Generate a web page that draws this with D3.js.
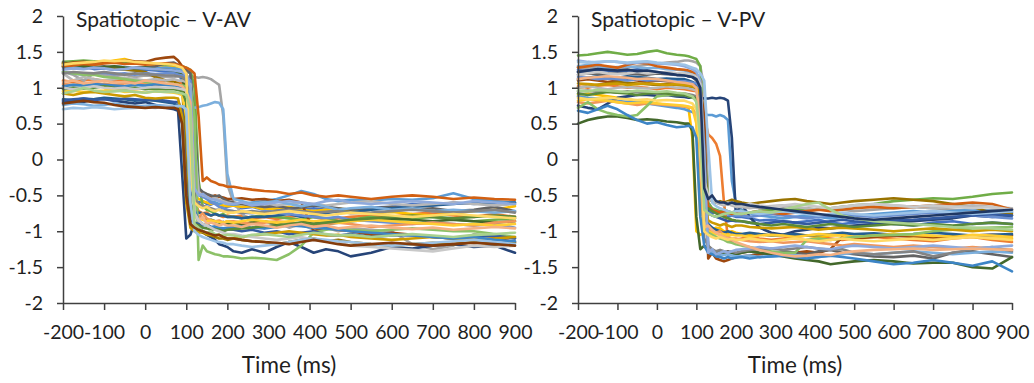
<!DOCTYPE html>
<html>
<head>
<meta charset="utf-8">
<script src="https://cdn.jsdelivr.net/npm/d3@7"></script>
<style>
	body { margin: 0; background: #fff; }
	svg { display: block; font-family: Lato, "Open Sans", sans-serif; }
</style>
</head>
<body>
<svg id="chart" width="1034" height="383"></svg>
<script>
// time grid (ms): coarse before the saccade, fine around it, coarse after
const preTimes = [-200, -175, -150, -125, -100, -75, -50, -25, 0, 25, 50];
const midTimes = [70, 80, 90, 100, 110, 120, 130, 140, 150, 160, 170, 180, 190, 200];
const postTimes = [215, 235, 260, 290, 320, 350, 380, 410, 440, 470, 500, 550, 600, 650, 700, 750, 800, 850, 900];

const xTicks = [-200, -100, 0, 100, 200, 300, 400, 500, 600, 700, 800, 900];
const yTicks = [-2, -1.5, -1, -0.5, 0, 0.5, 1, 1.5, 2];

const titles = ["Spatiotopic \u2013 V-AV", "Spatiotopic \u2013 V-PV"];
const xLabel = "Time (ms)";

// V-AV
const avColors = ["#4472C4", "#ED7D31", "#A5A5A5", "#FFC000", "#5B9BD5", "#70AD47", "#264478", "#9E480E",
	"#636363", "#997300", "#255E91", "#43682B", "#698ED0", "#F1975A", "#B7B7B7", "#FFCD33", "#7CAFDD",
	"#8CC168", "#335AA1", "#D26012", "#848484", "#CC9A00", "#3D85C6", "#5A8A39", "#8FAADC", "#F4B183",
	"#C9C9C9", "#FFD966", "#9DC3E6", "#A9D18E", "#843C0C"];

const avPre = [
	[1.28, 1.27, 1.29, 1.26, 1.27, 1.25, 1.26, 1.24, 1.25, 1.24, 1.23],
	[1.1, 1.08, 1.1, 1.12, 1.09, 1.1, 1.11, 1.08, 1.1, 1.09, 1.1],
	[1.22, 1.18, 1.1, 1.2, 1.18, 1.16, 1.18, 1.15, 1.17, 1.16, 1.15],
	[1.3, 1.32, 1.35, 1.36, 1.35, 1.38, 1.4, 1.36, 1.33, 1.32, 1.3],
	[1.3, 1.28, 1.3, 1.29, 1.28, 1.3, 1.29, 1.27, 1.28, 1.27, 1.28],
	[1.36, 1.37, 1.38, 1.37, 1.36, 1.35, 1.36, 1.34, 1.35, 1.33, 1.32],
	[0.8, 0.82, 0.8, 0.84, 0.85, 0.82, 0.8, 0.78, 0.8, 0.76, 0.72],
	[1.33, 1.35, 1.36, 1.35, 1.37, 1.36, 1.38, 1.37, 1.36, 1.4, 1.42],
	[1.35, 1.33, 1.3, 1.28, 1.3, 1.27, 1.25, 1.28, 1.28, 1.3, 1.34],
	[1.34, 1.33, 1.32, 1.3, 1.28, 1.27, 1.25, 1.24, 1.22, 1.15, 1.1],
	[0.84, 0.83, 0.85, 0.84, 0.86, 0.85, 0.84, 0.82, 0.83, 0.82, 0.8],
	[1.3, 1.32, 1.3, 1.28, 1.29, 1.3, 1.28, 1.27, 1.28, 1.26, 1.25],
	[1.22, 1.2, 1.18, 1.2, 1.21, 1.19, 1.2, 1.18, 1.2, 1.19, 1.2],
	[1.05, 1.04, 1.06, 1.07, 1.05, 1.04, 1.06, 1.07, 1.05, 1.04, 1.05],
	[1.2, 1.1, 1.15, 1.12, 1.1, 1.12, 1.14, 1.12, 1.1, 1.12, 1.1],
	[0.95, 0.96, 0.94, 0.95, 0.96, 0.98, 0.94, 0.95, 0.93, 0.95, 0.94],
	[0.76, 0.78, 0.77, 0.75, 0.76, 0.78, 0.76, 0.74, 0.75, 0.76, 0.75],
	[1.22, 1.2, 1.18, 1.18, 1.15, 1.14, 1.12, 1.1, 1.08, 1.06, 1.05],
	[0.82, 0.84, 0.85, 0.83, 0.84, 0.82, 0.85, 0.84, 0.83, 0.84, 0.82],
	[1.3, 1.31, 1.33, 1.32, 1.34, 1.35, 1.33, 1.34, 1.32, 1.33, 1.34],
	[1.2, 1.22, 1.21, 1.2, 1.22, 1.2, 1.18, 1.2, 1.19, 1.18, 1.17],
	[0.92, 0.9, 0.93, 0.94, 0.92, 0.9, 0.88, 0.9, 0.86, 0.85, 0.86],
	[1.02, 1.04, 1.03, 1.05, 1.04, 1.03, 1.02, 1.04, 1.03, 1.05, 1.04],
	[0.98, 1.0, 0.99, 1.0, 1.02, 1.0, 0.99, 1.0, 0.98, 0.99, 0.98],
	[1.25, 1.27, 1.26, 1.28, 1.27, 1.25, 1.26, 1.28, 1.27, 1.26, 1.25],
	[1.08, 1.1, 1.06, 1.08, 1.1, 1.07, 1.08, 1.06, 1.1, 1.08, 1.06],
	[1.0, 0.98, 1.0, 1.02, 1.0, 0.99, 1.0, 0.98, 1.0, 1.01, 1.0],
	[1.32, 1.34, 1.35, 1.36, 1.38, 1.37, 1.38, 1.36, 1.35, 1.34, 1.33],
	[0.7, 0.72, 0.71, 0.73, 0.72, 0.7, 0.71, 0.72, 0.73, 0.72, 0.74],
	[0.92, 0.95, 1.0, 0.96, 0.94, 0.95, 0.96, 0.94, 0.93, 0.95, 0.94],
	[0.78, 0.8, 0.82, 0.8, 0.79, 0.76, 0.74, 0.73, 0.72, 0.73, 0.72]
];

const avMid = [
	[1.22, 1.2, 1.1, 0.2, -0.45, -0.55, -0.6, -0.58, -0.62, -0.63, -0.6, -0.64, -0.65, -0.66],
	[1.08, 1.08, 1.05, 1.0, 0.6, -0.6, -0.72, -0.75, -0.74, -0.78, -0.76, -0.78, -0.8, -0.78],
	[1.15, 1.16, 1.15, 1.15, 1.16, 1.15, 1.14, 1.15, 1.14, 1.12, 1.08, 1.04, 0.6, -0.35],
	[1.3, 1.28, 1.25, 0.9, -0.3, -0.5, -0.55, -0.58, -0.6, -0.62, -0.6, -0.63, -0.64, -0.65],
	[1.27, 1.26, 1.25, 1.24, 1.2, 0.4, -0.45, -0.5, -0.55, -0.58, -0.6, -0.62, -0.6, -0.62],
	[1.32, 1.3, 1.3, 1.28, 1.25, 1.0, -0.3, -0.65, -0.7, -0.72, -0.75, -0.78, -0.76, -0.8],
	[0.7, 0.68, -0.2, -1.1, -1.05, -0.88, -0.95, -1.0, -1.05, -1.08, -1.12, -1.18, -1.2, -1.22],
	[1.43, 1.38, 1.3, 1.2, 0.2, -0.5, -0.45, -0.48, -0.5, -0.52, -0.5, -0.52, -0.53, -0.55],
	[1.35, 1.32, 1.28, 1.25, 1.2, 0.5, -0.4, -0.45, -0.48, -0.5, -0.52, -0.5, -0.55, -0.58],
	[1.08, 1.06, 1.0, 0.1, -0.9, -0.95, -1.0, -1.02, -1.05, -1.06, -1.08, -1.1, -1.1, -1.12],
	[0.78, 0.75, 0.5, -0.6, -0.7, -0.72, -0.74, -0.75, -0.76, -0.78, -0.76, -0.78, -0.78, -0.8],
	[1.24, 1.22, 1.2, 0.8, -0.6, -0.75, -0.8, -0.82, -0.85, -0.84, -0.86, -0.88, -0.87, -0.9],
	[1.2, 1.18, 1.17, 1.15, 1.1, 0.3, -0.5, -0.52, -0.55, -0.6, -0.62, -0.66, -0.68, -0.7],
	[1.05, 1.04, 1.03, 1.0, 0.2, -0.7, -0.8, -0.75, -0.82, -0.85, -0.86, -0.85, -0.88, -0.86],
	[1.12, 1.1, 1.1, 1.08, 1.05, 0.2, -0.45, -0.5, -0.52, -0.55, -0.54, -0.56, -0.58, -0.6],
	[0.93, 0.92, 0.9, 0.6, -0.7, -0.8, -0.82, -0.84, -0.86, -0.85, -0.86, -0.87, -0.88, -0.86],
	[0.74, 0.74, 0.74, 0.73, 0.74, 0.72, 0.73, 0.75, 0.76, 0.78, 0.8, 0.79, 0.7, -0.2],
	[1.05, 1.04, 1.03, 1.02, 1.0, 0.6, -1.4, -1.2, -1.28, -1.3, -1.32, -1.33, -1.35, -1.35],
	[0.8, 0.8, 0.7, -0.4, -0.85, -0.88, -0.9, -0.92, -0.9, -0.94, -0.95, -0.96, -0.98, -0.97],
	[1.33, 1.32, 1.3, 1.28, 1.25, 1.2, 0.6, -0.3, -0.25, -0.3, -0.32, -0.35, -0.36, -0.38],
	[1.17, 1.16, 1.15, 1.1, 0.9, -0.55, -0.62, -0.65, -0.66, -0.68, -0.7, -0.7, -0.72, -0.72],
	[0.86, 0.85, 0.6, -0.6, -0.95, -1.0, -1.02, -1.0, -1.04, -1.05, -1.06, -1.05, -1.08, -1.1],
	[1.03, 1.02, 1.0, 0.98, 0.9, -0.7, -0.85, -0.9, -0.92, -0.94, -0.93, -0.95, -0.96, -0.95],
	[0.98, 0.97, 0.95, 0.8, -0.7, -0.9, -0.92, -0.95, -0.96, -0.98, -0.97, -0.98, -1.0, -0.98],
	[1.24, 1.23, 1.22, 1.18, 1.0, -0.4, -0.5, -0.48, -0.52, -0.55, -0.56, -0.58, -0.6, -0.62],
	[1.05, 1.04, 1.02, 0.95, 0.8, -0.75, -0.85, -0.8, -0.9, -0.88, -0.9, -0.92, -0.9, -0.92],
	[1.0, 0.99, 0.98, 0.96, 0.5, -0.75, -0.85, -0.9, -0.92, -0.95, -0.98, -1.0, -1.02, -1.04],
	[1.32, 1.3, 1.28, 1.2, -0.2, -0.6, -0.65, -0.68, -0.66, -0.7, -0.72, -0.7, -0.72, -0.74],
	[0.74, 0.75, 0.74, 0.7, -0.6, -1.0, -1.05, -1.08, -1.1, -1.12, -1.14, -1.15, -1.16, -1.18],
	[0.94, 0.93, 0.92, 0.9, 0.7, -0.9, -0.95, -1.0, -1.02, -1.0, -1.04, -1.05, -1.06, -1.05],
	[0.72, 0.7, 0.5, -0.5, -0.9, -0.95, -0.98, -1.0, -1.02, -1.04, -1.06, -1.05, -1.08, -1.1]
];

const avPost = [
	[-0.64, -0.68, -0.66, -0.7, -0.69, -0.72, -0.7, -0.68, -0.7, -0.73, -0.7, -0.67, -0.66, -0.62, -0.64, -0.6, -0.62, -0.6, -0.62],
	[-0.8, -0.78, -0.82, -0.8, -0.83, -0.8, -0.78, -0.8, -0.84, -0.82, -0.8, -0.78, -0.8, -0.76, -0.74, -0.78, -0.8, -0.76, -0.8],
	[-0.6, -0.75, -0.88, -0.96, -0.88, -0.95, -0.9, -0.98, -0.95, -1.0, -0.96, -0.98, -1.0, -1.18, -1.25, -1.2, -1.04, -1.08, -1.1],
	[-0.64, -0.66, -0.65, -0.7, -0.68, -0.66, -0.7, -0.72, -0.7, -0.68, -0.72, -0.75, -0.73, -0.76, -0.78, -0.75, -0.72, -0.7, -0.65],
	[-0.63, -0.62, -0.6, -0.58, -0.55, -0.5, -0.44, -0.48, -0.55, -0.58, -0.56, -0.57, -0.55, -0.56, -0.54, -0.47, -0.55, -0.58, -0.6],
	[-0.8, -0.82, -0.8, -0.78, -0.8, -0.82, -0.84, -0.8, -0.82, -0.86, -0.84, -0.8, -0.85, -0.82, -0.8, -0.84, -0.86, -0.84, -0.82],
	[-1.28, -1.3, -1.25, -1.3, -1.22, -1.15, -1.22, -1.3, -1.25, -1.28, -1.35, -1.3, -1.22, -1.24, -1.2, -1.18, -1.22, -1.2, -1.3],
	[-0.55, -0.54, -0.56, -0.55, -0.58, -0.56, -0.6, -1.0, -0.95, -0.98, -1.0, -1.05, -1.02, -1.05, -1.08, -1.1, -1.12, -1.1, -1.15],
	[-0.6, -0.62, -0.64, -0.66, -0.65, -0.68, -0.67, -0.64, -0.66, -0.68, -0.7, -0.68, -0.66, -0.7, -0.68, -0.72, -0.7, -0.66, -0.72],
	[-1.1, -1.12, -1.14, -1.15, -1.18, -1.15, -1.12, -1.1, -1.14, -1.12, -1.15, -1.18, -1.2, -1.18, -1.16, -1.18, -1.15, -1.18, -1.16],
	[-0.8, -0.82, -0.8, -0.8, -0.78, -0.76, -0.8, -0.78, -0.75, -0.72, -0.74, -0.7, -0.68, -0.66, -0.64, -0.62, -0.6, -0.62, -0.6],
	[-0.88, -0.9, -0.88, -0.86, -0.9, -0.92, -0.88, -0.86, -0.9, -0.88, -0.86, -0.84, -0.82, -0.84, -0.86, -0.84, -0.86, -0.88, -0.86],
	[-0.72, -0.74, -0.75, -0.72, -0.74, -0.76, -0.78, -0.8, -0.82, -0.8, -0.84, -0.86, -0.88, -0.9, -0.88, -0.9, -0.92, -0.9, -0.95],
	[-0.86, -0.88, -0.9, -0.88, -0.86, -0.88, -0.9, -0.92, -0.9, -0.88, -0.9, -0.94, -0.92, -0.9, -0.88, -0.9, -0.92, -0.88, -0.86],
	[-0.62, -0.6, -0.62, -0.6, -0.64, -0.62, -0.6, -0.62, -0.64, -0.62, -0.6, -0.58, -0.62, -0.64, -0.62, -0.6, -0.62, -0.64, -0.62],
	[-0.88, -0.86, -0.84, -0.86, -0.88, -0.86, -0.84, -0.86, -0.85, -0.88, -0.86, -0.84, -0.86, -0.88, -0.9, -0.92, -0.9, -0.92, -0.9],
	[-0.55, -0.58, -0.62, -0.6, -0.58, -0.62, -0.65, -0.62, -0.66, -0.7, -0.68, -0.66, -0.7, -0.68, -0.72, -0.7, -0.72, -0.74, -0.72],
	[-1.36, -1.38, -1.37, -1.38, -1.4, -1.32, -1.2, -1.02, -0.98, -0.96, -0.98, -1.0, -0.98, -0.96, -0.98, -1.0, -1.0, -1.04, -1.08],
	[-0.98, -1.0, -0.98, -1.02, -1.0, -1.04, -1.02, -1.0, -1.05, -1.06, -1.04, -1.08, -1.06, -1.05, -1.08, -1.1, -1.08, -1.06, -1.1],
	[-0.38, -0.4, -0.42, -0.44, -0.45, -0.48, -0.46, -0.5, -0.52, -0.5, -0.52, -0.55, -0.52, -0.5, -0.52, -0.55, -0.53, -0.55, -0.56],
	[-0.72, -0.74, -0.72, -0.74, -0.72, -0.7, -0.72, -0.74, -0.73, -0.72, -0.75, -0.74, -0.72, -0.7, -0.72, -0.74, -0.72, -0.7, -0.74],
	[-1.1, -1.08, -1.06, -1.04, -1.02, -1.0, -1.02, -1.04, -1.06, -1.05, -1.08, -1.1, -1.12, -1.1, -1.08, -1.1, -1.12, -1.1, -1.08],
	[-0.94, -0.93, -0.95, -0.96, -0.94, -0.92, -0.93, -0.95, -0.96, -0.98, -1.0, -1.02, -1.04, -1.06, -1.08, -1.1, -1.08, -1.12, -1.14],
	[-0.97, -0.96, -0.95, -0.93, -0.92, -0.9, -0.88, -0.9, -0.88, -0.86, -0.84, -0.82, -0.8, -0.78, -0.8, -0.82, -0.8, -0.78, -0.8],
	[-0.62, -0.6, -0.64, -0.62, -0.6, -0.58, -0.6, -0.62, -0.58, -0.56, -0.6, -0.62, -0.6, -0.58, -0.6, -0.62, -0.58, -0.6, -0.62],
	[-0.92, -0.94, -0.9, -0.92, -0.95, -0.92, -0.9, -0.94, -0.92, -0.96, -0.94, -0.92, -0.95, -0.97, -0.95, -0.98, -0.96, -0.94, -0.96],
	[-1.04, -1.06, -1.08, -1.1, -1.12, -1.1, -1.08, -1.12, -1.14, -1.16, -1.2, -1.22, -1.24, -1.26, -1.28, -1.24, -1.2, -1.22, -1.2],
	[-0.74, -0.72, -0.74, -0.76, -0.74, -0.72, -0.74, -0.76, -0.78, -0.76, -0.74, -0.76, -0.78, -0.8, -0.78, -0.76, -0.78, -0.8, -0.82],
	[-1.18, -1.2, -1.22, -1.2, -1.18, -1.15, -1.12, -1.1, -1.12, -1.14, -1.15, -1.18, -1.2, -1.18, -1.16, -1.14, -1.12, -1.15, -1.18],
	[-1.06, -1.08, -1.05, -1.04, -1.06, -1.08, -1.05, -1.02, -1.04, -1.06, -1.05, -1.08, -1.06, -1.04, -1.06, -1.08, -1.05, -1.04, -1.02],
	[-1.1, -1.12, -1.14, -1.15, -1.16, -1.18, -1.15, -1.12, -1.15, -1.18, -1.2, -1.18, -1.16, -1.18, -1.2, -1.18, -1.16, -1.18, -1.2]
];

// V-PV
const pvColors = ["#4472C4", "#ED7D31", "#A5A5A5", "#FFC000", "#5B9BD5", "#70AD47", "#264478", "#9E480E",
	"#636363", "#997300", "#255E91", "#43682B", "#698ED0", "#F1975A", "#B7B7B7", "#FFCD33", "#7CAFDD",
	"#8CC168", "#335AA1", "#D26012", "#848484", "#CC9A00", "#3D85C6", "#5A8A39", "#8FAADC", "#F4B183",
	"#C9C9C9", "#FFD966", "#9DC3E6", "#A9D18E", "#203864"];

const pvPre = [
	[1.25, 1.24, 1.26, 1.24, 1.23, 1.22, 1.24, 1.22, 1.2, 1.21, 1.2],
	[1.02, 1.0, 1.03, 1.04, 1.02, 1.0, 1.01, 1.0, 0.98, 1.0, 0.99],
	[1.28, 1.27, 1.3, 1.28, 1.26, 1.28, 1.3, 1.32, 1.33, 1.35, 1.36],
	[0.9, 0.92, 0.9, 0.88, 0.86, 0.84, 0.82, 0.8, 0.78, 0.76, 0.75],
	[0.88, 0.86, 0.85, 0.84, 0.82, 0.8, 0.8, 0.78, 0.76, 0.74, 0.72],
	[1.45, 1.46, 1.48, 1.5, 1.48, 1.46, 1.47, 1.5, 1.52, 1.48, 1.46],
	[0.75, 0.72, 0.7, 0.78, 0.86, 0.88, 0.9, 0.9, 0.89, 0.9, 0.88],
	[1.1, 1.12, 1.1, 1.08, 1.1, 1.12, 1.1, 1.08, 1.1, 1.09, 1.08],
	[1.18, 1.2, 1.19, 1.2, 1.21, 1.2, 1.19, 1.18, 1.2, 1.19, 1.18],
	[1.0, 1.02, 1.04, 1.06, 1.08, 1.07, 1.06, 1.05, 1.04, 1.05, 1.04],
	[1.12, 1.14, 1.16, 1.15, 1.14, 1.16, 1.15, 1.14, 1.12, 1.13, 1.12],
	[0.5, 0.55, 0.58, 0.6, 0.6, 0.58, 0.55, 0.56, 0.55, 0.53, 0.52],
	[1.15, 1.14, 1.12, 1.13, 1.12, 1.1, 1.12, 1.1, 1.11, 1.1, 1.09],
	[0.8, 0.78, 0.8, 0.82, 0.8, 0.78, 0.76, 0.78, 0.77, 0.76, 0.75],
	[1.0, 1.02, 1.0, 0.98, 1.0, 1.01, 1.0, 0.99, 1.0, 1.02, 1.0],
	[0.82, 0.84, 0.83, 0.82, 0.8, 0.78, 0.79, 0.8, 0.78, 0.77, 0.76],
	[1.3, 1.32, 1.3, 1.28, 1.29, 1.3, 1.28, 1.27, 1.28, 1.26, 1.25],
	[0.72, 0.8, 0.7, 0.65, 0.62, 0.6, 0.62, 0.75, 0.88, 0.9, 0.9],
	[1.22, 1.24, 1.25, 1.24, 1.23, 1.24, 1.25, 1.23, 1.22, 1.2, 1.18],
	[1.28, 1.3, 1.32, 1.3, 1.28, 1.32, 1.35, 1.34, 1.3, 1.28, 1.26],
	[0.95, 0.96, 0.94, 0.95, 0.93, 0.95, 0.94, 0.93, 0.92, 0.93, 0.92],
	[1.06, 1.05, 1.04, 1.05, 1.06, 1.04, 1.05, 1.06, 1.05, 1.04, 1.05],
	[0.68, 0.65, 0.7, 0.75, 0.7, 0.62, 0.55, 0.5, 0.52, 0.48, 0.45],
	[0.92, 0.9, 0.92, 0.94, 0.93, 0.92, 0.9, 0.92, 0.93, 0.92, 0.9],
	[1.38, 1.36, 1.35, 1.37, 1.36, 1.34, 1.35, 1.36, 1.34, 1.33, 1.32],
	[1.12, 1.14, 1.15, 1.16, 1.15, 1.14, 1.12, 1.13, 1.12, 1.1, 1.08],
	[1.18, 1.2, 1.22, 1.2, 1.19, 1.2, 1.22, 1.2, 1.21, 1.22, 1.2],
	[0.86, 0.84, 0.85, 0.86, 0.85, 0.84, 0.83, 0.84, 0.82, 0.83, 0.82],
	[1.36, 1.35, 1.36, 1.37, 1.36, 1.35, 1.36, 1.37, 1.35, 1.34, 1.33],
	[0.96, 0.95, 0.97, 0.96, 0.95, 0.94, 0.96, 0.95, 0.94, 0.95, 0.93],
	[1.22, 1.24, 1.26, 1.25, 1.24, 1.25, 1.23, 1.24, 1.22, 1.2, 1.18]
];

const pvMid = [
	[1.2, 1.18, 1.17, 1.15, 1.1, 0.3, -0.7, -0.75, -0.72, -0.76, -0.78, -0.8, -0.78, -0.8],
	[0.98, 0.97, 0.96, 0.95, 0.9, 0.6, 0.35, 0.3, 0.22, 0.05, -0.6, -1.1, -1.15, -1.12],
	[1.38, 1.38, 1.37, 1.35, 1.3, 1.0, -0.5, -0.55, -0.6, -0.62, -0.6, -0.63, -0.62, -0.64],
	[0.74, 0.72, 0.3, -1.0, -1.05, -1.02, -1.0, -0.98, -0.95, -0.96, -1.0, -1.02, -1.0, -1.02],
	[0.7, 0.68, 0.66, 0.65, 0.64, 0.63, 0.62, 0.62, 0.6, 0.62, 0.6, 0.55, -0.3, -0.6],
	[1.45, 1.44, 1.42, 1.4, 1.3, 0.2, -0.6, -0.68, -0.7, -0.72, -0.7, -0.72, -0.74, -0.72],
	[0.87, 0.86, 0.86, 0.86, 0.86, 0.85, 0.85, 0.86, 0.85, 0.86, 0.85, 0.82, 0.3, -0.75],
	[1.08, 1.06, 1.05, 1.02, 1.0, 0.6, -1.38, -1.3, -1.38, -1.4, -1.42, -1.4, -1.38, -1.36],
	[1.18, 1.16, 1.15, 1.1, 1.0, 0.2, -1.2, -1.28, -1.3, -1.32, -1.3, -1.28, -1.3, -1.32],
	[1.03, 1.02, 1.0, 0.98, 0.9, -0.3, -0.55, -0.58, -0.6, -0.58, -0.6, -0.58, -0.56, -0.58],
	[1.12, 1.1, 1.08, 1.05, 0.8, -0.8, -0.9, -0.95, -0.98, -1.0, -1.02, -1.0, -1.02, -1.04],
	[0.5, 0.5, 0.4, -0.8, -1.25, -1.2, -1.28, -1.3, -1.3, -1.28, -1.3, -1.32, -1.3, -1.32],
	[1.09, 1.08, 1.07, 1.06, 1.0, -0.3, -0.65, -0.7, -0.72, -0.74, -0.75, -0.76, -0.78, -0.78],
	[0.74, 0.73, 0.72, 0.6, -0.5, -1.0, -0.95, -1.0, -1.02, -1.0, -1.05, -1.08, -1.1, -1.1],
	[1.0, 0.99, 0.98, 0.96, 0.6, -0.5, -0.55, -0.58, -0.6, -0.62, -0.64, -0.62, -0.64, -0.66],
	[0.75, 0.74, 0.72, 0.5, -0.8, -0.95, -1.0, -1.02, -1.04, -1.05, -1.04, -1.06, -1.05, -1.06],
	[1.24, 1.22, 1.2, 1.15, 1.0, -0.2, -1.2, -1.3, -1.32, -1.34, -1.33, -1.32, -1.34, -1.35],
	[0.9, 0.88, 0.86, 0.84, 0.6, -0.95, -1.02, -1.05, -1.08, -1.1, -1.12, -1.15, -1.16, -1.18],
	[1.18, 1.16, 1.15, 1.12, 1.05, -0.4, -0.75, -0.78, -0.8, -0.82, -0.84, -0.86, -0.85, -0.86],
	[1.25, 1.24, 1.22, 1.2, 1.1, -0.3, -0.65, -0.7, -0.72, -0.74, -0.72, -0.74, -0.76, -0.75],
	[0.92, 0.91, 0.9, 0.88, 0.6, -1.1, -1.2, -1.25, -1.28, -1.26, -1.28, -1.3, -1.28, -1.3],
	[1.04, 1.03, 1.02, 1.0, 0.9, -0.6, -0.85, -0.88, -0.9, -0.92, -0.9, -0.92, -0.94, -0.92],
	[0.46, 0.47, 0.45, 0.3, -0.8, -1.2, -1.3, -1.32, -1.35, -1.36, -1.38, -1.36, -1.38, -1.37],
	[0.9, 0.88, 0.87, 0.85, 0.4, -0.7, -0.68, -0.72, -0.75, -0.78, -0.8, -0.82, -0.84, -0.85],
	[1.3, 1.28, 1.26, 1.22, 1.1, 0.1, -1.3, -1.25, -1.32, -1.3, -1.28, -1.3, -1.28, -1.26],
	[1.07, 1.06, 1.05, 1.0, 0.5, -0.95, -0.92, -0.98, -1.02, -1.05, -1.08, -1.1, -1.12, -1.15],
	[1.2, 1.19, 1.18, 1.15, 1.05, -0.3, -0.5, -0.55, -0.58, -0.6, -0.62, -0.6, -0.62, -0.64],
	[0.82, 0.8, 0.78, 0.7, 0.2, -1.0, -1.05, -1.08, -1.1, -1.08, -1.1, -1.12, -1.1, -1.12],
	[1.32, 1.3, 1.28, 1.26, 1.2, 1.1, 0.2, -0.6, -0.65, -0.68, -0.7, -0.72, -0.74, -0.72],
	[0.92, 0.9, 0.88, 0.8, 0.3, -0.7, -0.75, -0.78, -0.8, -0.78, -0.76, -0.75, -0.74, -0.76],
	[1.17, 1.16, 1.15, 1.12, 1.0, -0.4, -0.55, -0.5, -0.58, -0.6, -0.6, -0.62, -0.6, -0.62]
];

const pvPost = [
	[-0.8, -0.82, -0.85, -0.84, -0.86, -0.88, -0.86, -0.84, -0.88, -0.9, -0.88, -0.86, -0.9, -0.92, -0.88, -0.86, -0.9, -0.88, -0.9],
	[-1.1, -1.08, -1.1, -1.12, -1.1, -1.08, -1.06, -1.08, -1.1, -1.12, -1.1, -1.08, -1.1, -1.12, -1.14, -1.1, -1.08, -1.12, -1.15],
	[-0.65, -0.66, -0.68, -0.7, -0.68, -0.7, -0.72, -0.7, -0.68, -0.7, -0.72, -0.7, -0.68, -0.66, -0.68, -0.7, -0.72, -0.7, -0.72],
	[-1.04, -1.05, -1.04, -1.06, -1.05, -1.04, -1.06, -1.08, -1.06, -1.05, -1.08, -1.06, -1.04, -1.06, -1.08, -1.06, -1.08, -1.1, -1.1],
	[-0.7, -0.75, -0.78, -0.8, -0.82, -0.8, -0.78, -0.8, -0.82, -0.8, -0.78, -0.76, -0.74, -0.72, -0.74, -0.72, -0.7, -0.72, -0.74],
	[-0.72, -0.74, -0.72, -0.7, -0.72, -0.7, -0.68, -0.7, -0.68, -0.66, -0.64, -0.62, -0.58, -0.56, -0.54, -0.55, -0.52, -0.48, -0.46],
	[-0.62, -0.8, -0.95, -1.02, -1.05, -1.0, -0.98, -0.95, -0.96, -0.94, -0.92, -0.9, -0.88, -0.86, -0.84, -0.82, -0.78, -0.8, -0.78],
	[-1.35, -1.34, -1.32, -1.3, -1.32, -1.3, -1.28, -1.3, -1.25, -1.08, -1.1, -1.08, -1.06, -1.08, -1.1, -1.08, -1.06, -1.05, -1.06],
	[-1.3, -1.28, -1.3, -1.32, -1.28, -1.3, -1.32, -1.28, -1.26, -1.3, -1.32, -1.35, -1.36, -1.34, -1.38, -1.3, -1.28, -1.32, -1.36],
	[-0.6, -0.62, -0.6, -0.58, -0.56, -0.55, -0.58, -0.6, -0.62, -0.6, -0.58, -0.56, -0.54, -0.56, -0.58, -0.62, -0.66, -0.75, -0.76],
	[-1.04, -1.02, -1.04, -1.06, -1.05, -1.04, -1.06, -1.05, -1.04, -1.02, -1.04, -1.03, -1.05, -1.04, -1.02, -1.04, -1.06, -1.05, -1.04],
	[-1.3, -1.28, -1.3, -1.32, -1.35, -1.38, -1.4, -1.42, -1.46, -1.44, -1.42, -1.4, -1.42, -1.45, -1.44, -1.44, -1.5, -1.52, -1.36],
	[-0.78, -0.8, -0.78, -0.76, -0.78, -0.8, -0.82, -0.8, -0.78, -0.76, -0.78, -0.8, -0.78, -0.76, -0.74, -0.76, -0.78, -0.8, -0.82],
	[-1.12, -1.14, -1.15, -1.14, -1.16, -1.15, -1.14, -1.16, -1.18, -1.2, -1.18, -1.2, -1.22, -1.2, -1.22, -1.24, -1.22, -1.24, -1.26],
	[-0.66, -0.68, -0.66, -0.65, -0.64, -0.66, -0.68, -0.7, -0.68, -0.66, -0.64, -0.62, -0.64, -0.66, -0.68, -0.66, -0.64, -0.66, -0.68],
	[-1.06, -1.08, -1.06, -1.05, -1.06, -1.08, -1.06, -1.04, -1.05, -1.06, -1.08, -1.06, -1.04, -1.05, -1.06, -1.08, -1.05, -1.06, -1.08],
	[-1.35, -1.34, -1.36, -1.35, -1.34, -1.33, -1.35, -1.36, -1.34, -1.32, -1.3, -1.32, -1.3, -1.28, -1.3, -1.32, -1.3, -1.28, -1.3],
	[-1.2, -1.22, -1.25, -1.28, -1.3, -1.3, -1.12, -1.1, -1.12, -1.1, -1.08, -1.06, -1.05, -1.04, -1.0, -0.98, -0.96, -0.95, -0.94],
	[-0.86, -0.88, -0.9, -0.88, -0.86, -0.88, -0.9, -0.88, -0.86, -0.84, -0.86, -0.88, -0.85, -0.84, -0.82, -0.8, -0.78, -0.76, -0.78],
	[-0.76, -0.74, -0.72, -0.74, -0.76, -0.74, -0.72, -0.7, -0.72, -0.7, -0.68, -0.66, -0.68, -0.66, -0.64, -0.62, -0.6, -0.62, -0.7],
	[-1.28, -1.26, -1.25, -1.24, -1.26, -1.24, -1.22, -1.24, -1.26, -1.25, -1.3, -1.32, -1.3, -1.28, -1.35, -1.3, -1.25, -1.22, -1.28],
	[-0.92, -0.94, -0.95, -0.96, -0.95, -0.94, -0.96, -0.98, -0.96, -0.95, -0.96, -0.98, -1.0, -0.98, -0.96, -0.98, -1.0, -0.98, -1.0],
	[-1.36, -1.38, -1.36, -1.35, -1.34, -1.36, -1.38, -1.36, -1.34, -1.36, -1.38, -1.42, -1.46, -1.44, -1.4, -1.44, -1.48, -1.42, -1.56],
	[-0.86, -0.88, -0.9, -0.92, -0.9, -0.92, -0.94, -0.92, -0.9, -0.92, -0.94, -0.92, -0.9, -0.92, -0.9, -0.92, -0.9, -0.88, -0.9],
	[-1.25, -1.24, -1.22, -1.24, -1.22, -1.2, -1.22, -1.24, -1.25, -1.22, -1.2, -1.22, -1.24, -1.22, -1.2, -1.22, -1.24, -1.22, -1.2],
	[-1.18, -1.22, -1.26, -1.3, -1.33, -1.35, -1.34, -1.32, -1.33, -1.3, -1.28, -1.26, -1.25, -1.24, -1.26, -1.25, -1.24, -1.25, -1.26],
	[-0.64, -0.62, -0.64, -0.66, -0.64, -0.62, -0.64, -0.66, -0.68, -0.66, -0.64, -0.62, -0.64, -0.66, -0.64, -0.66, -0.68, -0.66, -0.7],
	[-1.12, -1.1, -1.12, -1.14, -1.12, -1.1, -1.12, -1.14, -1.12, -1.1, -1.12, -1.14, -1.12, -1.1, -1.12, -1.1, -1.08, -1.1, -1.12],
	[-0.72, -0.74, -0.76, -0.74, -0.72, -0.74, -0.76, -0.78, -0.76, -0.74, -0.76, -0.78, -0.76, -0.74, -0.72, -0.74, -0.76, -0.74, -0.72],
	[-0.76, -0.74, -0.72, -0.74, -0.7, -0.66, -0.62, -0.6, -0.7, -0.78, -0.82, -0.86, -0.88, -0.9, -0.92, -0.94, -0.95, -0.96, -0.98],
	[-0.62, -0.64, -0.66, -0.68, -0.7, -0.72, -0.74, -0.76, -0.78, -0.8, -0.82, -0.84, -0.82, -0.8, -0.78, -0.76, -0.74, -0.72, -0.7]
];

////////////////////////////////////////////////////////////////////////////////

const timeGrid = preTimes.concat(midTimes, postTimes);

const svg = d3.select("#chart");
const axisColour = "#404040";
const textColour = "#1f1f1f";

// plot frames of the two panels (left / right edge of the x range)
const panels = [
	{ title: titles[0], x0: 63, x1: 515, colors: avColors, pre: avPre, mid: avMid, post: avPost },
	{ title: titles[1], x0: 578, x1: 1012, colors: pvColors, pre: pvPre, mid: pvMid, post: pvPost }
];
const plotTop = 16;
const plotBottom = 303;

var y = d3.scaleLinear().domain([-2, 2]).range([plotBottom, plotTop]);

panels.forEach(drawPanel);

function drawPanel(p) {
	var x = d3.scaleLinear().domain([-200, 900]).range([p.x0, p.x1]);
	var g = svg.append("g");

	// series lines
	var line = d3.line()
		.x(d => x(d[0]))
		.y(d => y(d[1]));

	var gLines = g.append("g").attr("class", "lines");
	p.pre.forEach(function(row, i) {
		var vals = row.concat(p.mid[i], p.post[i]);
		if (vals.length !== timeGrid.length) throw new Error("series " + i + " has " + vals.length + " values");
		gLines.append("path")
			.datum(timeGrid.map((t, k) => [t, vals[k]]))
			.attr("d", line)
			.attr("fill", "none")
			.attr("stroke", p.colors[i])
			.attr("stroke-width", 2.6)
			.attr("stroke-linejoin", "round")
			.attr("stroke-linecap", "round");
	});

	// y axis
	var yAxis = g.append("g")
		.attr("transform", "translate(" + p.x0 + ",0)")
		.call(d3.axisLeft(y).tickValues(yTicks).tickSize(6).tickSizeOuter(0).tickPadding(14).tickFormat(d => String(d)));

	// x axis
	var xAxis = g.append("g")
		.attr("transform", "translate(0," + plotBottom + ")")
		.call(d3.axisBottom(x).tickValues(xTicks).tickSize(7).tickSizeOuter(0).tickPadding(15).tickFormat(d => String(d)));

	[yAxis, xAxis].forEach(function(a) {
		a.select(".domain").attr("stroke", axisColour).attr("stroke-width", 1.5);
		a.selectAll(".tick line").attr("stroke", axisColour).attr("stroke-width", 1.5);
		a.selectAll(".tick text")
			.attr("fill", textColour)
			.style("font-size", "19.5px")
			.style("font-family", "Lato, 'Open Sans', sans-serif");
	});

	// panel title
	g.append("text")
		.attr("x", p.x0 + 13)
		.attr("y", 27)
		.attr("fill", textColour)
		.style("font-size", "21px")
		.text(p.title);

	// axis title
	g.append("text")
		.attr("x", (p.x0 + p.x1) / 2)
		.attr("y", 373)
		.attr("text-anchor", "middle")
		.attr("fill", textColour)
		.style("font-size", "22.5px")
		.text(xLabel);
}
</script>
</body>
</html>
